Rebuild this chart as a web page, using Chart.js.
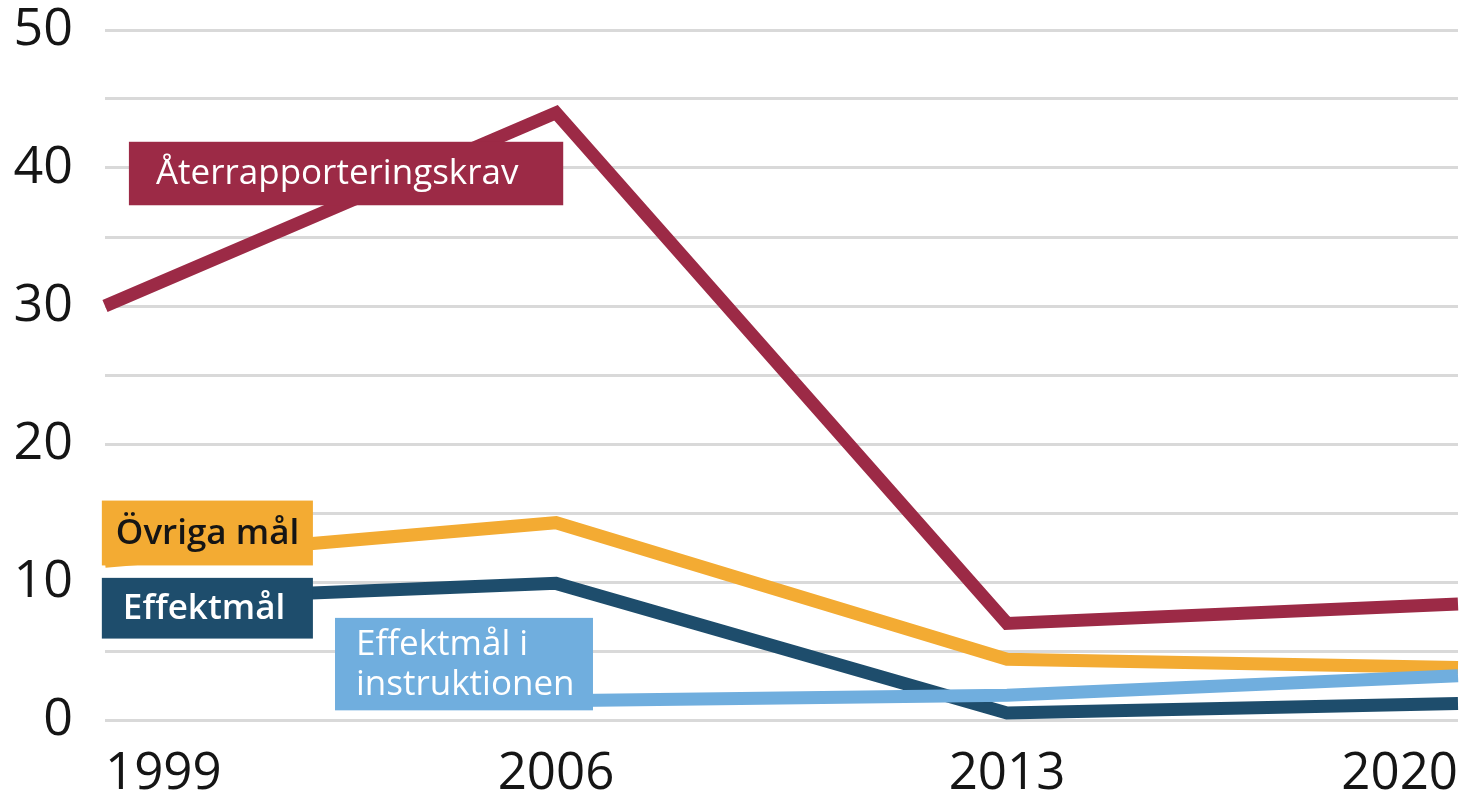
<!DOCTYPE html>
<html>
<head>
  <meta charset="UTF-8"/>
  <title>Återrapporteringskrav och mål</title>
  <style>
    html, body { margin: 0; padding: 0; background: #fff; }
    #wrap { width: 1468px; height: 796px; }
  </style>
  <script src="https://cdn.jsdelivr.net/npm/chart.js"></script>
</head>
<body>
  <div id="wrap"><canvas id="myChart"></canvas></div>
  <script>
    // data
    const years = ['1999', '2006', '2013', '2020'];
    const aterrapportering = [30, 44, 7, 8.4];
    const ovrigaMal = [11.5, 14.3, 4.4, 3.8];
    const effektmal = [8.6, 9.9, 0.5, 1.2];
    const effektmalInstr = [null, 1.4, 1.8, 3.2];

    const colMaroon = '#9c2a46';
    const colOrange = '#f3ab33';
    const colDark = '#1e4d6c';
    const colLight = '#70aede';

    // label boxes, in data units (x = category index, y = value)
    const labelBoxes = [
      { lines: ['Återrapporteringskrav'], x0: 0.053, x1: 1.016, yTop: 41.9, yBot: 37.3, bg: colMaroon, fg: '#fff', weight: 500, pad: 27 },
      { lines: ['Övriga mål'], x0: -0.007, x1: 0.461, yTop: 15.9, yBot: 11.2, bg: colOrange, fg: '#151515', weight: 600, pad: 14 },
      { lines: ['Effektmål'], x0: -0.007, x1: 0.461, yTop: 10.3, yBot: 5.9, bg: colDark, fg: '#fff', weight: 600, pad: 21 },
      { lines: ['Effektmål i', 'instruktionen'], x0: 0.51, x1: 1.082, yTop: 7.4, yBot: 0.7, bg: colLight, fg: '#fff', weight: 400, pad: 21 }
    ];

    const seriesLabels = {
      id: 'seriesLabels',
      afterDatasetsDraw(chart) {
        const { ctx, scales: { x, y } } = chart;
        ctx.save();
        labelBoxes.forEach(b => {
          const left = x.getPixelForValue(b.x0);
          const right = x.getPixelForValue(b.x1);
          const top = y.getPixelForValue(b.yTop);
          const bot = y.getPixelForValue(b.yBot);
          ctx.fillStyle = b.bg;
          ctx.fillRect(left, top, right - left, bot - top);
          ctx.fillStyle = b.fg;
          ctx.font = b.weight + ' 35px "Open Sans"';
          ctx.textBaseline = 'middle';
          ctx.textAlign = 'left';
          const lh = 40;
          const mid = (top + bot) / 2 + 1;
          b.lines.forEach((t, i) => {
            const ty = mid + (i - (b.lines.length - 1) / 2) * lh;
            ctx.fillText(t, left + b.pad, ty);
          });
        });
        ctx.restore();
      }
    };

    function lineSet(label, data, color, order) {
      return {
        label: label,
        data: data,
        borderColor: color,
        backgroundColor: color,
        borderWidth: 13,
        pointRadius: 0,
        tension: 0,
        fill: false,
        borderJoinStyle: 'miter',
        borderCapStyle: 'butt',
        order: order
      };
    }

    const ctx = document.getElementById('myChart').getContext('2d');
    new Chart(ctx, {
      type: 'line',
      data: {
        labels: years,
        datasets: [
          lineSet('Återrapporteringskrav', aterrapportering, colMaroon, 4),
          lineSet('Övriga mål', ovrigaMal, colOrange, 3),
          lineSet('Effektmål', effektmal, colDark, 2),
          lineSet('Effektmål i instruktionen', effektmalInstr, colLight, 1)
        ]
      },
      options: {
        responsive: true,
        maintainAspectRatio: false,
        animation: false,
        layout: { padding: { top: 30, right: 10, left: 0, bottom: 0 } },
        plugins: { legend: { display: false }, tooltip: { enabled: false } },
        scales: {
          x: {
            grid: { display: false },
            border: { display: false },
            ticks: {
              align: 'inner',
              maxRotation: 0,
              autoSkip: false,
              padding: 16,
              color: '#151515',
              font: { family: '"Open Sans"', size: 51 }
            },
            afterFit(s) { s.height = 76; s.paddingLeft = 0; s.paddingRight = 0; }
          },
          y: {
            min: 0,
            max: 50,
            grid: { color: '#d9d9d9', lineWidth: 3, drawTicks: false },
            border: { display: false },
            ticks: {
              stepSize: 5,
              padding: 32,
              color: '#151515',
              font: { family: '"Open Sans"', size: 52 },
              callback: v => (v % 10 === 0 ? v : '')
            },
            afterFit(s) { s.width = 105; s.paddingTop = 0; s.paddingBottom = 0; }
          }
        }
      },
      plugins: [seriesLabels]
    });
  </script>
</body>
</html>
